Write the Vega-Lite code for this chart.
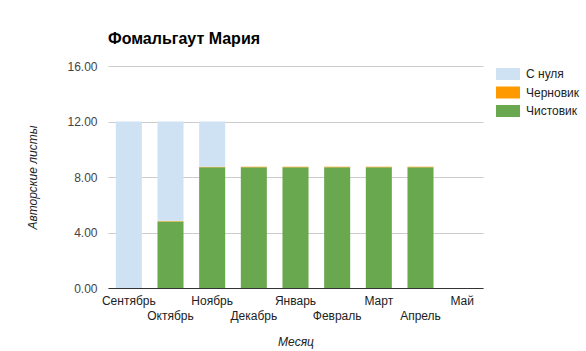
{
  "$schema": "https://vega.github.io/schema/vega-lite/v6.json",
  "width": 375,
  "height": 222,
  "autosize": "none",
  "padding": {"left": 108, "top": 66, "right": 103, "bottom": 63},
  "background": "white",
  "title": {"text": "Фомальгаут Мария", "anchor": "start", "frame": "group", "font": "Liberation Sans", "fontSize": 16, "fontWeight": "bold", "color": "#000000", "offset": 0, "baseline": "alphabetic"},
  "config": {"view": {"stroke": null}, "font": "Liberation Sans"},
  "data": {"values": [
    {"month": "Сентябрь", "type": "Чистовик", "value": 0},
    {"month": "Сентябрь", "type": "Черновик", "value": 0},
    {"month": "Сентябрь", "type": "С нуля", "value": 12},
    {"month": "Октябрь", "type": "Чистовик", "value": 4.8},
    {"month": "Октябрь", "type": "Черновик", "value": 0.04},
    {"month": "Октябрь", "type": "С нуля", "value": 7.16},
    {"month": "Ноябрь", "type": "Чистовик", "value": 8.7},
    {"month": "Ноябрь", "type": "Черновик", "value": 0.04},
    {"month": "Ноябрь", "type": "С нуля", "value": 3.26},
    {"month": "Декабрь", "type": "Чистовик", "value": 8.7},
    {"month": "Декабрь", "type": "Черновик", "value": 0.04},
    {"month": "Январь", "type": "Чистовик", "value": 8.7},
    {"month": "Январь", "type": "Черновик", "value": 0.04},
    {"month": "Февраль", "type": "Чистовик", "value": 8.7},
    {"month": "Февраль", "type": "Черновик", "value": 0.04},
    {"month": "Март", "type": "Чистовик", "value": 8.7},
    {"month": "Март", "type": "Черновик", "value": 0.04},
    {"month": "Апрель", "type": "Чистовик", "value": 8.7},
    {"month": "Апрель", "type": "Черновик", "value": 0.04},
    {"month": "Май", "type": "Чистовик", "value": 0}
  ]},
  "mark": {"type": "bar"},
  "encoding": {
    "x": {
      "field": "month", "type": "nominal",
      "scale": {"domain": ["Сентябрь", "Октябрь", "Ноябрь", "Декабрь", "Январь", "Февраль", "Март", "Апрель", "Май"], "paddingInner": 0.375, "paddingOuter": 0.1875},
      "axis": {
        "title": "Месяц", "titleFont": "Liberation Sans", "titleFontSize": 12, "titleFontStyle": "italic", "titleFontWeight": "normal", "titleColor": "#222222",
        "titleX": 187.5, "titleY": 53, "titleBaseline": "middle", "titleAnchor": "middle",
        "labelAngle": 0, "labelFontSize": 12, "labelColor": "#222222", "labelFont": "Liberation Sans",
        "labelPadding": {"condition": {"test": "indexof(['Октябрь','Декабрь','Февраль','Апрель'], datum.value) >= 0", "value": 22}, "value": 7},
        "ticks": false, "tickSize": 0, "domainColor": "#333333", "domainWidth": 1, "grid": false, "labelOverlap": false
      }
    },
    "y": {
      "field": "value", "type": "quantitative", "stack": "zero",
      "scale": {"domain": [0, 16], "nice": false},
      "axis": {
        "title": "Авторские листы", "titleFont": "Liberation Sans", "titleFontSize": 12, "titleFontStyle": "italic", "titleFontWeight": "normal", "titleColor": "#222222",
        "titleX": -76, "titleY": 111, "titleAngle": -90, "titleBaseline": "middle", "titleAnchor": "middle",
        "values": [0, 4, 8, 12, 16], "format": ".2f",
        "labelFontSize": 12, "labelColor": "#444444", "labelFont": "Liberation Sans", "labelPadding": 11,
        "ticks": false, "tickSize": 0, "domain": false, "grid": true, "gridColor": "#cccccc", "gridWidth": 1
      }
    },
    "color": {
      "field": "type", "type": "nominal",
      "scale": {"domain": ["С нуля", "Черновик", "Чистовик"], "range": ["#cfe2f3", "#ff9900", "#6aa84f"]},
      "legend": {
        "title": null, "orient": "none", "legendX": 388, "legendY": -4,
        "symbolType": "M-1,-0.5H1V0.5H-1Z", "symbolSize": 576, "symbolStrokeWidth": 0,
        "labelFont": "Liberation Sans", "labelFontSize": 12, "labelColor": "#222222", "labelOffset": 6, "rowPadding": 0.5
      }
    },
    "order": {"field": "type", "sort": "descending"}
  }
}
